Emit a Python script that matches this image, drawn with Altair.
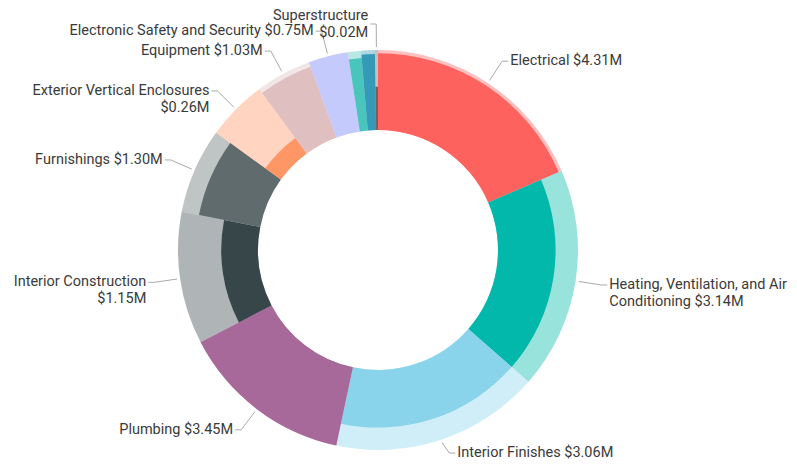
import altair as alt
import pandas as pd

# ---- data ----
categories = [
    "Electrical",
    "Heating, Ventilation, and Air Conditioning",
    "Interior Finishes",
    "Plumbing",
    "Interior Construction",
    "Furnishings",
    "Exterior Vertical Enclosures",
    "Equipment",
    "Electronic Safety and Security",
    "Fire Protection",
    "Conveying",
    "Superstructure",
]
# share of the circle (angular size of each slice, percent)
slice_share = [18.5, 17.9, 16.9, 14.0, 10.7, 6.9, 4.9, 4.5, 3.2, 1.06, 1.1, 0.25]
# how far the solid (dark) part fills the ring, 0..1
fill_ratio = [0.96, 0.72, 0.72, 1.0, 0.46, 0.78, 0.24, 0.94, 1.0, 0.91, 0.95, 0.54]
# cost shown in the labels ($M); hidden labels have none
cost_millions = [4.31, 3.14, 3.06, 3.45, 1.15, 1.30, 0.26, 1.03, 0.75, None, None, 0.02]
# label text ("|" = line break)
label_text = [
    "Electrical $4.31M",
    "Heating, Ventilation, and Air|Conditioning $3.14M",
    "Interior Finishes $3.06M",
    "Plumbing $3.45M",
    "Interior Construction|$1.15M",
    "Furnishings $1.30M",
    "Exterior Vertical Enclosures|$0.26M",
    "Equipment $1.03M",
    "Electronic Safety and Security $0.75M",
    "",
    "",
    "Superstructure|$0.02M",
]

# ---- styles ----
palette = [
    "#FD625E", "#01B8AA", "#8AD4EB", "#A66999", "#374649", "#5F6B6D",
    "#FE9666", "#DFBFBF", "#C5CAFD", "#4AC5BB", "#3599B8", "#7A5E5E",
]
W, H = 781, 454
CX, CY = 370, 242          # ring centre inside the plot area
R_IN, R_OUT = 120, 200     # ring radii
R_START, R_ELBOW = 203, 226
Y_MAX_LABEL = 445          # keep bottom labels inside the view
TEXT_COLOR = "#3A3A3A"
LINE_COLOR = "#AAAAAA"
FONT_SIZE = 14.5

df = pd.DataFrame({
    "idx": list(range(len(categories))),
    "category": categories,
    "share": slice_share,
    "fill": fill_ratio,
    "cost": cost_millions,
    "label": label_text,
})

color = alt.Color("category:N", scale=alt.Scale(domain=categories, range=palette), legend=None)

base = (
    alt.Chart(df)
    .transform_joinaggregate(total="sum(share)")
    .transform_window(cum="sum(share)", sort=[alt.SortField("idx", order="ascending")], frame=[None, 0])
    .transform_calculate(
        a0="2*PI*(datum.cum - datum.share)/datum.total",
        a1="2*PI*datum.cum/datum.total",
        mid="2*PI*(datum.cum - datum.share/2)/datum.total",
    )
)

theta = alt.Theta("a0:Q", scale=None)
theta2 = alt.Theta2("a1:Q")

background = base.mark_arc(innerRadius=R_IN, outerRadius=R_OUT, opacity=0.4).encode(
    theta=theta, theta2=theta2, color=color,
    x=alt.value(CX), y=alt.value(CY),
)

foreground = base.mark_arc(innerRadius=R_IN, opacity=1).encode(
    theta=theta, theta2=theta2, color=color,
    radius=alt.Radius("fill:Q", scale=alt.Scale(type="linear", domain=[0, 1], range=[R_IN, R_OUT], zero=False)),
    x=alt.value(CX), y=alt.value(CY),
)

geo = (
    base.transform_filter("datum.label != ''")
    .transform_calculate(
        sx=f"{CX} + {R_START}*sin(datum.mid)",
        sy=f"{CY} - {R_START}*cos(datum.mid)",
        ex=f"{CX} + {R_ELBOW}*sin(datum.mid)",
        ey=f"min({CY} - {R_ELBOW}*cos(datum.mid), {Y_MAX_LABEL})",
        side="sin(datum.mid) >= 0 ? 1 : -1",
    )
    .transform_calculate(
        hx="datum.ex + datum.side*6",
        tx="datum.ex + datum.side*8",
        lines="split(datum.label, '|')",
    )
    .transform_calculate(
        ty="datum.ey - (cos(datum.mid) > 0.99 ? (length(datum.lines)-1)*8.5 : 0)",
    )
)

leader1 = geo.mark_rule(color=LINE_COLOR, strokeWidth=1).encode(
    x=alt.X("sx:Q", scale=None), y=alt.Y("sy:Q", scale=None),
    x2="ex:Q", y2="ey:Q",
)
leader2 = geo.mark_rule(color=LINE_COLOR, strokeWidth=1).encode(
    x=alt.X("ex:Q", scale=None), y=alt.Y("ey:Q", scale=None),
    x2="hx:Q", y2="ey:Q",
)

text_right = geo.transform_filter("datum.side > 0").mark_text(
    align="left", baseline="middle", font="Roboto", fontSize=FONT_SIZE, lineHeight=17, color=TEXT_COLOR,
).encode(
    x=alt.X("tx:Q", scale=None), y=alt.Y("ty:Q", scale=None), text="lines:N",
)
text_left = geo.transform_filter("datum.side < 0").mark_text(
    align="right", baseline="middle", font="Roboto", fontSize=FONT_SIZE, lineHeight=17, color=TEXT_COLOR,
).encode(
    x=alt.X("tx:Q", scale=None), y=alt.Y("ty:Q", scale=None), text="lines:N",
)

chart = alt.layer(background, foreground, leader1, leader2, text_right, text_left).properties(
    width=W, height=H, padding=0,
    autosize=alt.AutoSizeParams(type="none"),
).configure_view(stroke=None)

chart.save("out.html", embed_options={"renderer": "svg", "actions": False})
